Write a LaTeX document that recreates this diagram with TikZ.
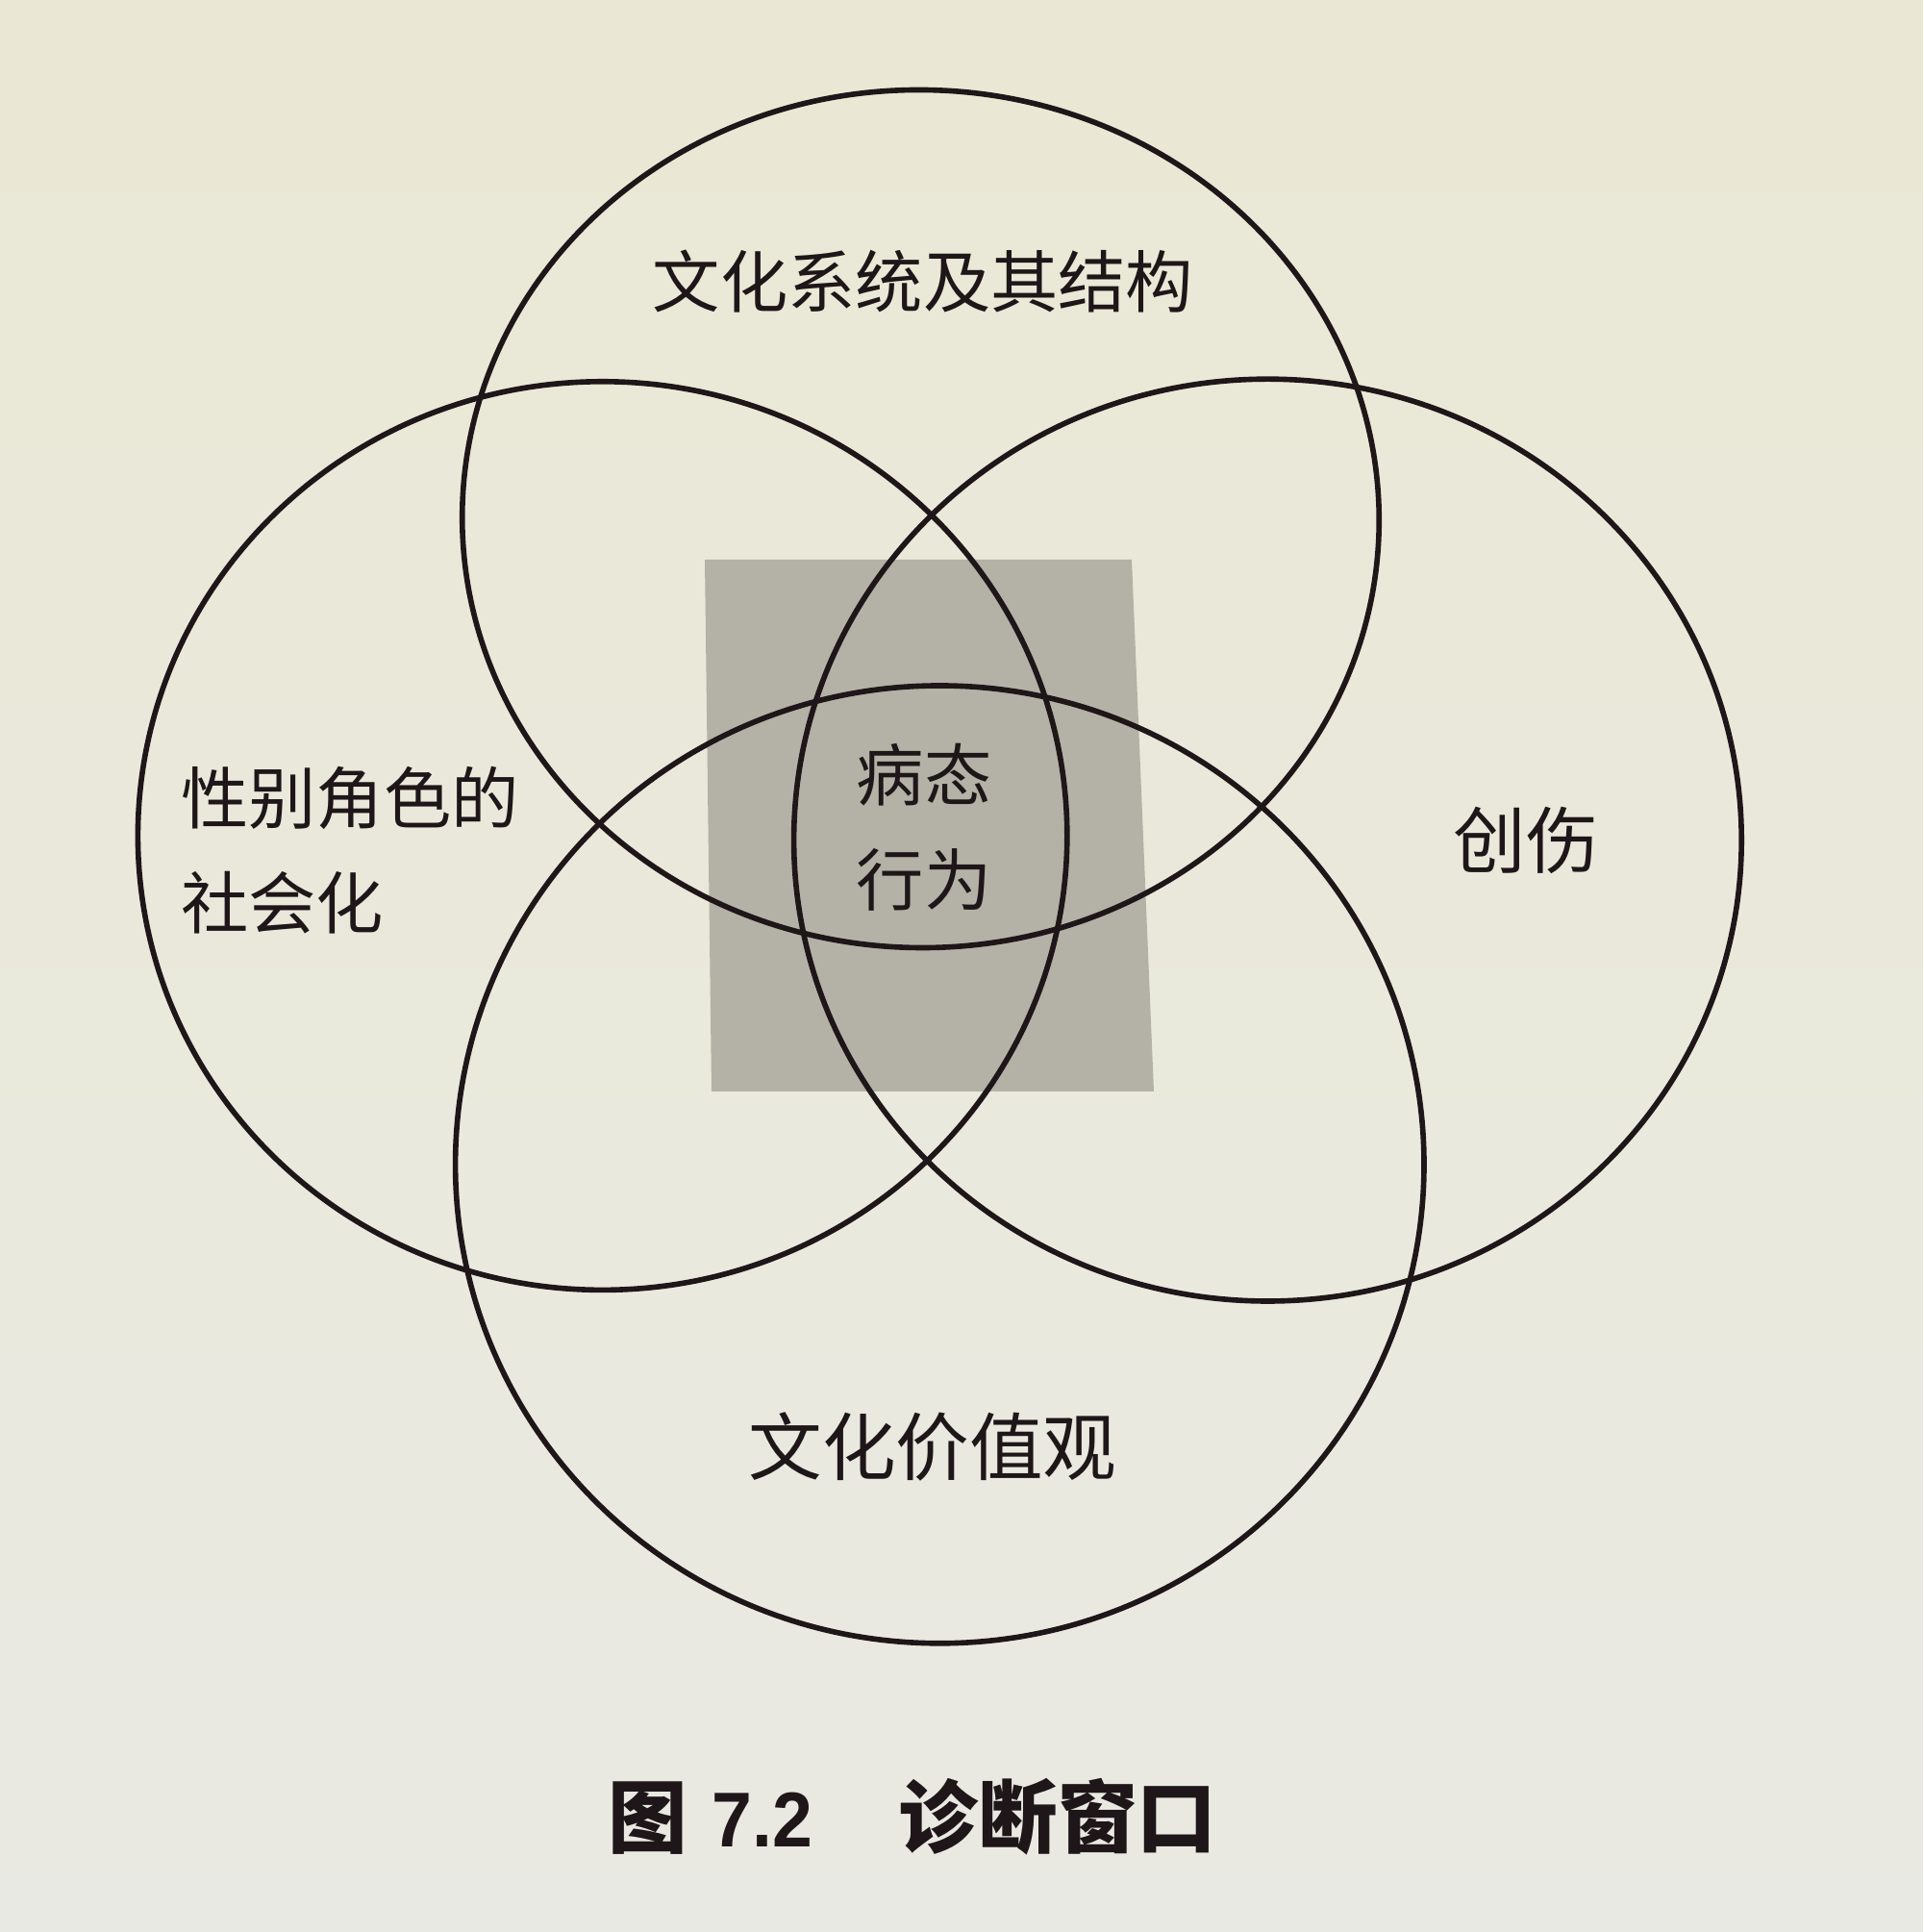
\documentclass[tikz,border=0pt]{standalone}
\usepackage{fontspec}
\usetikzlibrary{shapes.geometric}
\newfontfamily\cjk{Noto Sans CJK SC}
\newfontfamily\latinsans{Liberation Sans}
\definecolor{papertop}{RGB}{234,232,212}
\definecolor{paperbot}{RGB}{233,233,227}
\definecolor{ink}{RGB}{30,22,24}
\definecolor{screen}{RGB}{180,178,166}
\begin{document}
\begin{tikzpicture}[
  venn/.style={draw=ink, line width=1.6pt, ellipse, inner sep=0pt},
  lbl/.style={font=\cjk\fontsize{20pt}{31pt}\selectfont, text=ink, inner sep=0pt},
  figcaption/.style={font=\cjk\bfseries\fontsize{23.5pt}{28pt}\selectfont, text=ink, inner sep=0pt}
]
\useasboundingbox (0,0) rectangle (20,20.09);
% paper
\shade[top color=papertop, bottom color=paperbot] (0,0) rectangle (20,20.09);
% shaded window
\fill[screen] (7.33,14.27) -- (11.77,14.27) -- (12.00,8.74) -- (7.40,8.74) -- cycle;
% circles (slightly flattened by the photo's perspective)
\node[venn, minimum width=9.536cm, minimum height=8.92cm, rotate=-1.5] (ctop) at (9.575,14.695) {};
\node[venn, minimum width=9.664cm, minimum height=9.446cm] (cleft) at (6.266,11.399) {};
\node[venn, minimum width=9.856cm, minimum height=9.588cm] (cright) at (13.184,11.354) {};
\node[venn, minimum width=10.074cm, minimum height=9.958cm] (cbot) at (9.773,7.981) {};
% labels
\node[lbl] (ltop) at (9.60,17.16) {文化系统及其结构};
\node[lbl, align=left] (lleft) at (3.64,11.25) {性别角色的\\社会化};
\node[lbl, font=\cjk\fontsize{21.5pt}{26pt}\selectfont] (lright) at (15.87,11.35) {创伤};
\node[lbl, align=center] (lmid) at (9.61,11.49) {病态\\行为};
\node[lbl, font=\cjk\fontsize{21.8pt}{26pt}\selectfont] (lbot) at (9.70,5.05) {文化价值观};
% caption
\node[figcaption] (caption) at (9.49,1.20) {图\hspace{0.25cm}\scalebox{0.93}[1]{\latinsans\bfseries\fontsize{23pt}{26pt}\selectfont 7.2}\hspace{0.9cm}诊断窗口};
\end{tikzpicture}
\end{document}
